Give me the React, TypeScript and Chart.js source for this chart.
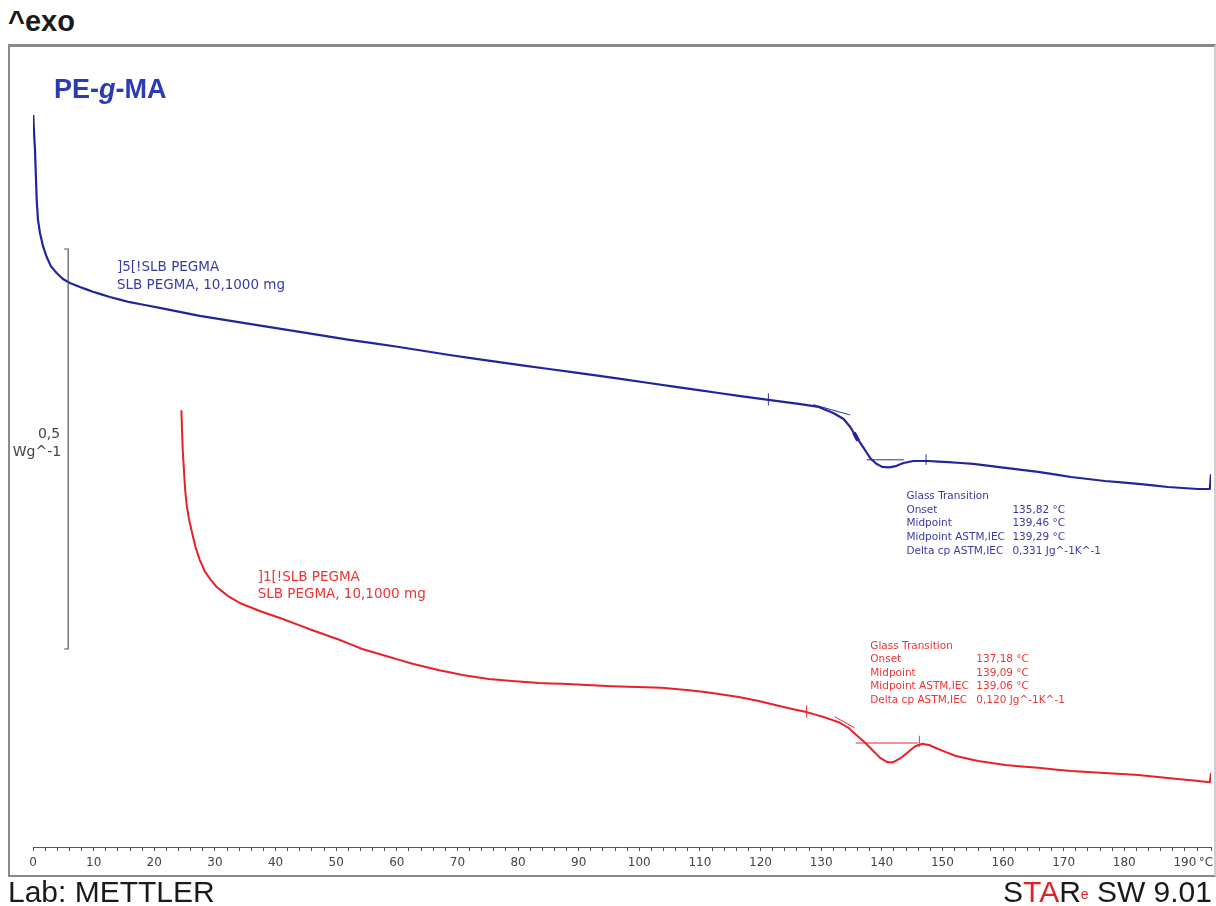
import React, { useEffect, useRef } from "react";
import { Chart, registerables } from "chart.js";
Chart.register(...registerables);

// ---------- data (temperature in °C, heat flow in W/g, arbitrary offset) ----------
const blueT = [0.05, 0.16, 0.33, 0.49, 0.61, 0.82, 1.15, 1.65, 2.26, 2.96, 3.9, 4.94, 6.09, 7.74, 9.88, 12.68, 15.97, 20.9, 27.5, 35.7, 44.0, 52.2, 60.4, 68.7, 76.9, 85.1, 93.4, 101.6, 109.8, 116.4, 121.3, 126.3, 129.6, 132.0, 133.7, 134.8, 135.8, 137.0, 138.1, 139.1, 140.1, 141.1, 142.3, 143.6, 145.2, 147.7, 151.0, 155.1, 160.4, 165.8, 171.2, 176.8, 182.3, 187.2, 192.1, 194.1, 194.3];
const blueHF = [0.915, 0.894, 0.871, 0.836, 0.809, 0.784, 0.7675, 0.751, 0.7375, 0.726, 0.7175, 0.71, 0.705, 0.7, 0.694, 0.6875, 0.681, 0.674, 0.664, 0.654, 0.644, 0.634, 0.625, 0.615, 0.606, 0.5975, 0.589, 0.58, 0.571, 0.564, 0.559, 0.554, 0.55, 0.5425, 0.535, 0.525, 0.5125, 0.499, 0.486, 0.479, 0.475, 0.4745, 0.476, 0.48, 0.4825, 0.4825, 0.481, 0.479, 0.474, 0.469, 0.4625, 0.4575, 0.454, 0.45, 0.4475, 0.4475, 0.466];

const redT = [24.48, 24.58, 24.7, 24.9, 25.1, 25.35, 25.7, 26.2, 26.8, 27.5, 28.3, 29.3, 30.3, 32.1, 34.1, 37.4, 41.2, 46.1, 50.5, 54.3, 58.8, 62.6, 67.0, 70.8, 75.2, 79.0, 83.5, 87.3, 95.5, 103.7, 108.2, 112.0, 116.4, 119.7, 123.8, 127.4, 130.4, 132.9, 134.5, 135.8, 137.3, 138.6, 139.8, 140.9, 141.9, 143.1, 144.4, 145.5, 146.7, 147.8, 149.3, 152.1, 155.9, 160.4, 165.8, 171.2, 176.8, 182.3, 188.8, 194.1, 194.3];
const redHF = [0.546, 0.521, 0.496, 0.471, 0.446, 0.4275, 0.411, 0.394, 0.375, 0.359, 0.345, 0.334, 0.325, 0.314, 0.305, 0.295, 0.285, 0.271, 0.259, 0.2475, 0.2375, 0.229, 0.221, 0.215, 0.21, 0.2075, 0.205, 0.204, 0.201, 0.199, 0.196, 0.1925, 0.1875, 0.1825, 0.175, 0.169, 0.1625, 0.156, 0.149, 0.14, 0.13, 0.12, 0.111, 0.106, 0.106, 0.111, 0.119, 0.126, 0.129, 0.1275, 0.1225, 0.114, 0.1075, 0.1025, 0.099, 0.095, 0.0925, 0.09, 0.085, 0.081, 0.0925];

// evaluation marks: [T1, HF1, T2, HF2]
const blueMarks = [
  [121.3, 0.567, 121.3, 0.552],
  [147.3, 0.491, 147.3, 0.4775],
  [128.7, 0.553, 134.8, 0.54],
  [137.5, 0.484, 143.7, 0.484],
];
const redMarks = [
  [127.6, 0.177, 127.6, 0.162],
  [146.2, 0.139, 146.2, 0.125],
  [132.2, 0.163, 135.5, 0.149],
  [135.7, 0.13, 146.0, 0.13],
];
const blueMidpoint = [135.4, 0.518, 136.1, 0.508];

const xMajorTicks = [0, 10, 20, 30, 40, 50, 60, 70, 80, 90, 100, 110, 120, 130, 140, 150, 160, 170, 180, 190];
const xUnit = "°C";

const title = ["PE-", "g", "-MA"];
const blueLabel = ["]5[!SLB PEGMA", "SLB PEGMA, 10,1000 mg"];
const redLabel = ["]1[!SLB PEGMA", "SLB PEGMA, 10,1000 mg"];
const gtNames = ["Onset", "Midpoint", "Midpoint ASTM,IEC", "Delta cp ASTM,IEC"];
const blueGT = ["135,82 °C", "139,46 °C", "139,29 °C", "0,331 Jg^-1K^-1"];
const redGT = ["137,18 °C", "139,09 °C", "139,06 °C", "0,120 Jg^-1K^-1"];
const scaleBarLabel = ["0,5", "Wg^-1"];
const scaleBarSpan = 0.5;

const BLUE = "#24249a";
const BLUE_TXT = "#3a3aa6";
const RED = "#e8202a";
const RED_TXT = "#ee3434";

const toXY = (t: number[], v: number[]) => t.map((tt, i) => ({ x: tt, y: v[i] }));
const segs = (m: number[][]) => {
  const out: any[] = [];
  m.forEach((s) => {
    out.push({ x: s[0], y: s[1] });
    out.push({ x: s[2], y: s[3] });
    out.push({ x: s[2], y: null });
  });
  return out;
};

const annotPlugin = {
  id: "annot",
  afterDatasetsDraw(chart: any) {
    const { ctx, scales, chartArea } = chart;
    const x = scales.x;
    const y = scales.y;
    const px = (t: number) => x.getPixelForValue(t);
    const py = (v: number) => y.getPixelForValue(v);
    ctx.save();

    // scale bar
    const bx = px(5.8);
    const b0 = py(0.2475);
    const b1 = py(0.2475 + scaleBarSpan);
    ctx.strokeStyle = "#555";
    ctx.lineWidth = 1.2;
    ctx.beginPath();
    ctx.moveTo(bx - 4, b1);
    ctx.lineTo(bx, b1);
    ctx.lineTo(bx, b0);
    ctx.lineTo(bx - 4, b0);
    ctx.stroke();
    const mid = (b0 + b1) / 2;
    ctx.fillStyle = "#444";
    ctx.font = '14px "DejaVu Sans"';
    ctx.textAlign = "right";
    ctx.textBaseline = "alphabetic";
    ctx.fillText(scaleBarLabel[0], bx - 8, mid - 11);
    ctx.fillText(scaleBarLabel[1], bx - 7, mid + 7);

    // title
    ctx.textAlign = "left";
    ctx.fillStyle = "#2b3bb3";
    let tx = chartArea.left + 21;
    const ty = chartArea.top + 51;
    ctx.font = 'bold 27px "Liberation Sans"';
    ctx.fillText(title[0], tx, ty);
    tx += ctx.measureText(title[0]).width;
    ctx.font = 'italic bold 27px "Liberation Sans"';
    ctx.fillText(title[1], tx, ty);
    tx += ctx.measureText(title[1]).width;
    ctx.font = 'bold 27px "Liberation Sans"';
    ctx.fillText(title[2], tx, ty);

    // curve labels
    ctx.font = '13.5px "DejaVu Sans"';
    ctx.fillStyle = BLUE_TXT;
    ctx.fillText(blueLabel[0], px(13.85), py(0.72));
    ctx.fillText(blueLabel[1], px(13.85), py(0.72) + 18);
    ctx.fillStyle = RED_TXT;
    ctx.fillText(redLabel[0], px(37.05), py(0.3325));
    ctx.fillText(redLabel[1], px(37.05), py(0.3325) + 17);

    // glass transition blocks
    const block = (t: number, v: number, vals: string[], color: string, step: number) => {
      const x0 = px(t);
      const y0 = py(v);
      ctx.fillStyle = color;
      ctx.font = '10.5px "DejaVu Sans"';
      ctx.fillText("Glass Transition", x0, y0);
      gtNames.forEach((n, i) => {
        ctx.fillText(n, x0, y0 + step * (i + 1));
        ctx.fillText(vals[i], x0 + 106, y0 + step * (i + 1));
      });
    };
    block(144.06, 0.435, blueGT, BLUE_TXT, 13.7);
    block(138.1, 0.2475, redGT, RED_TXT, 13.4);

    // unit label on x axis
    ctx.fillStyle = "#444";
    ctx.font = '12px "DejaVu Sans"';
    ctx.textAlign = "center";
    ctx.textBaseline = "middle";
    ctx.fillText(xUnit, chartArea.right - 5, chartArea.bottom + 16);

    // midpoint marker
    ctx.strokeStyle = BLUE;
    ctx.lineWidth = 4;
    ctx.beginPath();
    ctx.moveTo(px(blueMidpoint[0]), py(blueMidpoint[1]));
    ctx.lineTo(px(blueMidpoint[2]), py(blueMidpoint[3]));
    ctx.stroke();
    ctx.restore();
  },
};

export default function App() {
  const ref = useRef<HTMLCanvasElement>(null);
  useEffect(() => {
    const chart = new Chart(ref.current as HTMLCanvasElement, {
      type: "line",
      data: {
        datasets: [
          { data: toXY(blueT, blueHF), borderColor: BLUE, borderWidth: 2.2, pointRadius: 0, tension: 0.001, borderJoinStyle: "round" },
          { data: toXY(redT, redHF), borderColor: RED, borderWidth: 2, pointRadius: 0, tension: 0.001, borderJoinStyle: "round" },
          { data: segs(blueMarks), borderColor: BLUE, borderWidth: 1, pointRadius: 0, tension: 0.001, spanGaps: false },
          { data: segs(redMarks), borderColor: RED, borderWidth: 1, pointRadius: 0, tension: 0.001, spanGaps: false },
        ] as any,
      },
      options: {
        responsive: false,
        animation: false,
        layout: { padding: { left: 33, right: 3, top: 47, bottom: 30 } },
        plugins: { legend: { display: false }, tooltip: { enabled: false } },
        scales: {
          x: {
            type: "linear",
            min: 0,
            max: 194.3,
            afterFit: (s: any) => {
              s.height = 29;
            },
            ticks: {
              stepSize: 2,
              autoSkip: false,
              maxRotation: 0,
              minRotation: 0,
              padding: 5,
              color: "#444",
              font: { family: "DejaVu Sans", size: 12 },
              callback: (v: any) => (xMajorTicks.includes(Number(v)) ? String(v) : ""),
            },
            grid: { drawOnChartArea: false, drawTicks: true, tickLength: 4, color: "#555" },
            border: { display: true, color: "#555", width: 1 },
          },
          y: { display: false, min: 0, max: 1 },
        },
      } as any,
      plugins: [annotPlugin],
    });
    return () => chart.destroy();
  }, []);

  return (
    <div
      style={{
        position: "absolute",
        left: 0,
        top: 0,
        width: 1216,
        height: 906,
        overflow: "hidden",
        background: "#fff",
        fontFamily: '"Liberation Sans", Arial, sans-serif',
      }}
    >
      <div style={{ position: "absolute", left: 8, top: 8, fontSize: 29, fontWeight: "bold", lineHeight: "27px", color: "#1a1a1a" }}>^exo</div>
      <div
        style={{
          position: "absolute",
          left: 8,
          top: 44,
          width: 1208,
          height: 833,
          boxSizing: "border-box",
          borderTop: "3px solid #8a8a8a",
          borderLeft: "2px solid #8a8a8a",
          borderBottom: "2px solid #8a8a8a",
          borderRight: "2px solid #cfcfcf",
        }}
      />
      <canvas ref={ref} width={1216} height={906} style={{ position: "absolute", left: 0, top: 0 }} />
      <div style={{ position: "absolute", left: 8, top: 877, fontSize: 30, lineHeight: "30px", color: "#1a1a1a" }}>Lab: METTLER</div>
      <div
        style={{
          position: "absolute",
          right: 4,
          top: 877,
          fontSize: 30,
          lineHeight: "30px",
          color: "#1a1a1a",
          whiteSpace: "nowrap",
        }}
      >
        S<span style={{ color: "#e0202a" }}>TA</span>R
        <sup style={{ color: "#e0202a", fontSize: 14, verticalAlign: "top", position: "relative", top: 2 }}>e</sup> SW 9.01
      </div>
    </div>
  );
}
